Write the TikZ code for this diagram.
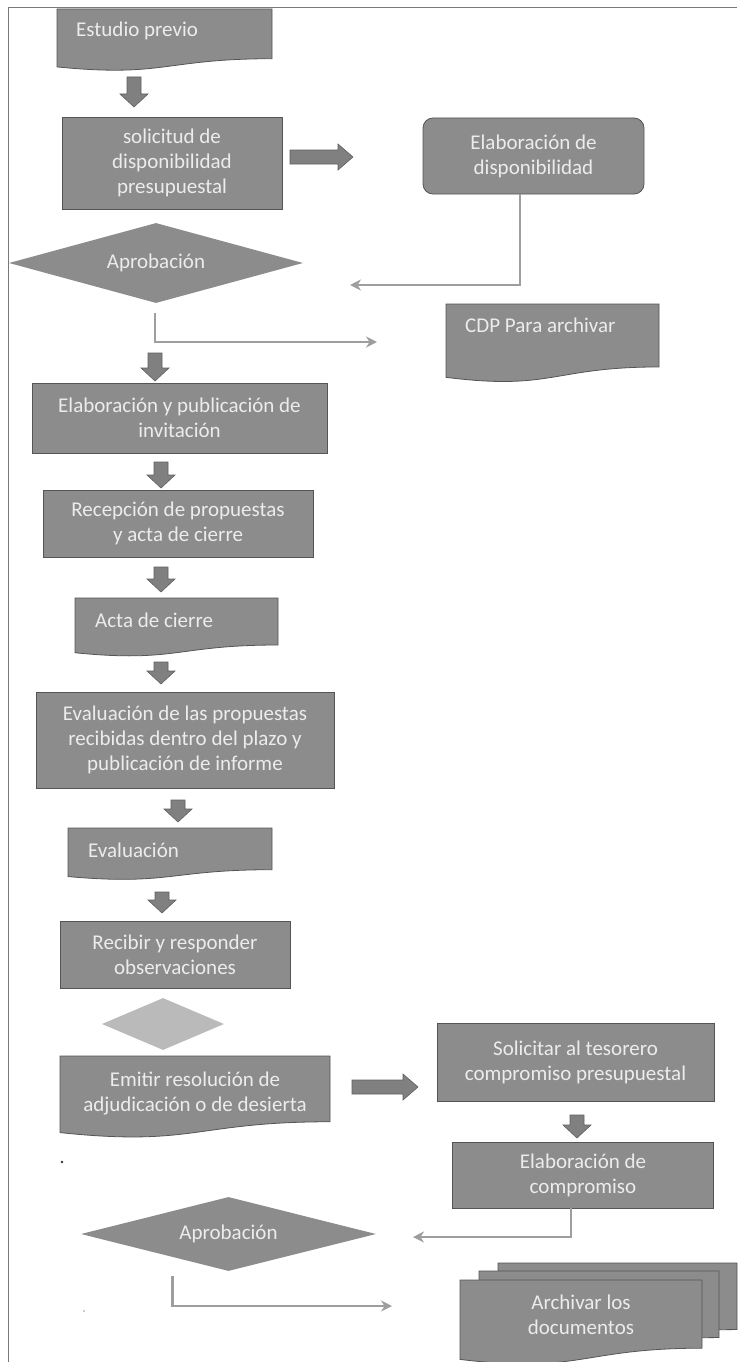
\documentclass[tikz,border=0pt]{standalone}
\usepackage{fontspec}
\setmainfont{Carlito}
\usetikzlibrary{shapes.geometric,arrows.meta,calc}
\definecolor{boxgray}{RGB}{140,140,140}
\definecolor{edgegray}{RGB}{85,85,85}
\definecolor{txtcol}{RGB}{236,236,236}
\definecolor{lightdia}{RGB}{186,186,186}
\definecolor{arrgray}{RGB}{128,128,128}
\definecolor{arrline}{RGB}{95,95,95}
\definecolor{conngray}{RGB}{158,158,158}
\definecolor{framecol}{RGB}{120,120,120}
\tikzset{
  boxtext/.style={font=\fontsize{21}{25}\selectfont, text=txtcol, align=center},
  proc/.style={rectangle, fill=boxgray, draw=edgegray, line width=0.8pt, inner sep=0pt, boxtext},
  rproc/.style={proc, rounded corners=10pt},
  decision/.style={diamond, fill=boxgray, draw=none, inner sep=0pt, boxtext},
  docshp/.style={fill=boxgray, draw=edgegray, line width=0.8pt},
  doctext/.style={boxtext, inner sep=0pt},
  blockarr/.style={fill=arrgray, draw=arrline, line width=0.6pt},
  conn/.style={draw=conngray, line width=2.5pt, -{Stealth[length=11pt,width=11pt]}},
}
% document shape: x0, y0, x1, H
\newcommand\docshape[4]{\filldraw[docshp] (#1,#2) -- (#3,#2) -- (#3,{#2+0.802*#4})
  .. controls ({(#1+#3)/2},{#2+0.802*#4}) and ({(#1+#3)/2},{#2+1.107*#4}) .. (#1,{#2+0.934*#4}) -- cycle;}
% down block arrow: x, ytop, ybottom
\newcommand\downblock[3]{\filldraw[blockarr] ({#1-7},#2) -- ({#1+7},#2) -- ({#1+7},{#3-13})
  -- ({#1+14},{#3-13}) -- (#1,#3) -- ({#1-14},{#3-13}) -- ({#1-7},{#3-13}) -- cycle;}
% right block arrow: xleft, xright, y
\newcommand\rightblock[3]{\filldraw[blockarr] (#1,{#3-7}) -- ({#2-15},{#3-7}) -- ({#2-15},{#3-13})
  -- (#2,#3) -- ({#2-15},{#3+13}) -- ({#2-15},{#3+7}) -- (#1,{#3+7}) -- cycle;}
\begin{document}
\begin{tikzpicture}[x=1pt,y=-1pt]
\useasboundingbox (0,0) rectangle (737,1362);
\fill[white] (0,0) rectangle (737,1362);

% ---- top part ----
\docshape{57}{9}{272}{62}
\node[doctext, anchor=west] (est) at (76,31) {Estudio previo};
\downblock{134}{77}{107}

\node[proc, minimum width=220pt, minimum height=92pt] (sol) at (172,163)
  {solicitud de\\disponibilidad\\presupuestal};
\rightblock{290}{353}{157}
\node[rproc, minimum width=221pt, minimum height=76pt] (edisp) at (533.5,156)
  {Elaboración de\\disponibilidad};

\node[decision, aspect=3.6, minimum width=294pt, minimum height=80pt] (apr1) at (156,263) {Aprobación};
\coordinate (c1end) at (350,285);
\draw[conn] ($(edisp.south)+(-13.5,0)$) |- (c1end);

\docshape{446}{304}{659}{78.5}
\node[doctext, anchor=west] (cdp) at (465,325) {CDP Para archivar};
\coordinate (c2end) at (377,342);
\draw[conn] ($(apr1.south)+(-1,10)$) |- (c2end);

\downblock{155}{353}{381}
\node[proc, minimum width=295pt, minimum height=70pt] (inv) at (179.5,418)
  {Elaboración y publicación de\\invitación};
\downblock{161}{462}{488}
\node[proc, minimum width=270pt, minimum height=67pt] (rec) at (178,523.5)
  {Recepción de propuestas\\y acta de cierre};
\downblock{161}{567}{592}
\docshape{75}{598}{278}{58.6}
\node[doctext, anchor=west] (acta) at (95,620) {Acta de cierre};
\downblock{161}{662}{684}
\node[proc, minimum width=298pt, minimum height=96pt] (eval) at (185,740)
  {Evaluación de las propuestas\\recibidas dentro del plazo y\\publicación de informe};
\downblock{178}{800}{822}
\docshape{68}{828}{272}{52}
\node[doctext, anchor=west] (ev2) at (88,850) {Evaluación};
\downblock{162}{892}{913}
\node[proc, minimum width=230pt, minimum height=67pt] (recib) at (175,954.5)
  {Recibir y responder\\observaciones};

\node[diamond, fill=lightdia, inner sep=0pt, aspect=2.35, minimum width=122pt, minimum height=52pt] (dsm) at (163,1024) {};

\docshape{60}{1056}{330}{82}
\node[doctext] (emi) at (195,1093) {Emitir resolución de\\adjudicación o de desierta};
\rightblock{352}{418}{1087}
\node[proc, minimum width=277pt, minimum height=78pt] (sol2) at (575.5,1062)
  {Solicitar al tesorero\\compromiso presupuestal};
\downblock{577}{1115}{1138}
\node[proc, minimum width=261.5pt, minimum height=66pt] (comp) at (583,1175)
  {Elaboración de\\compromiso};

\node[decision, aspect=4, minimum width=295pt, minimum height=74pt] (apr2) at (228.5,1234) {Aprobación};
\coordinate (c3end) at (413,1237);
\draw[conn] ($(comp.south)+(-12,0)$) |- (c3end);

% multi document
\docshape{498}{1263}{737}{83}
\docshape{479}{1271}{719}{83}
\docshape{460}{1280}{702}{85}
\node[doctext] (arch) at (581,1315) {Archivar los\\documentos};
\coordinate (c4end) at (392,1306);
\draw[conn] ($(apr2.south)+(-56,5)$) |- (c4end);

% scan specks
\fill[black!80] (62,1162) circle (1.4pt);
\fill[black!40] (84,1311) circle (0.8pt);

% frame
\draw[framecol, line width=1pt] (8,1362) -- (8,8) -- (737,8);
\end{tikzpicture}
\end{document}
